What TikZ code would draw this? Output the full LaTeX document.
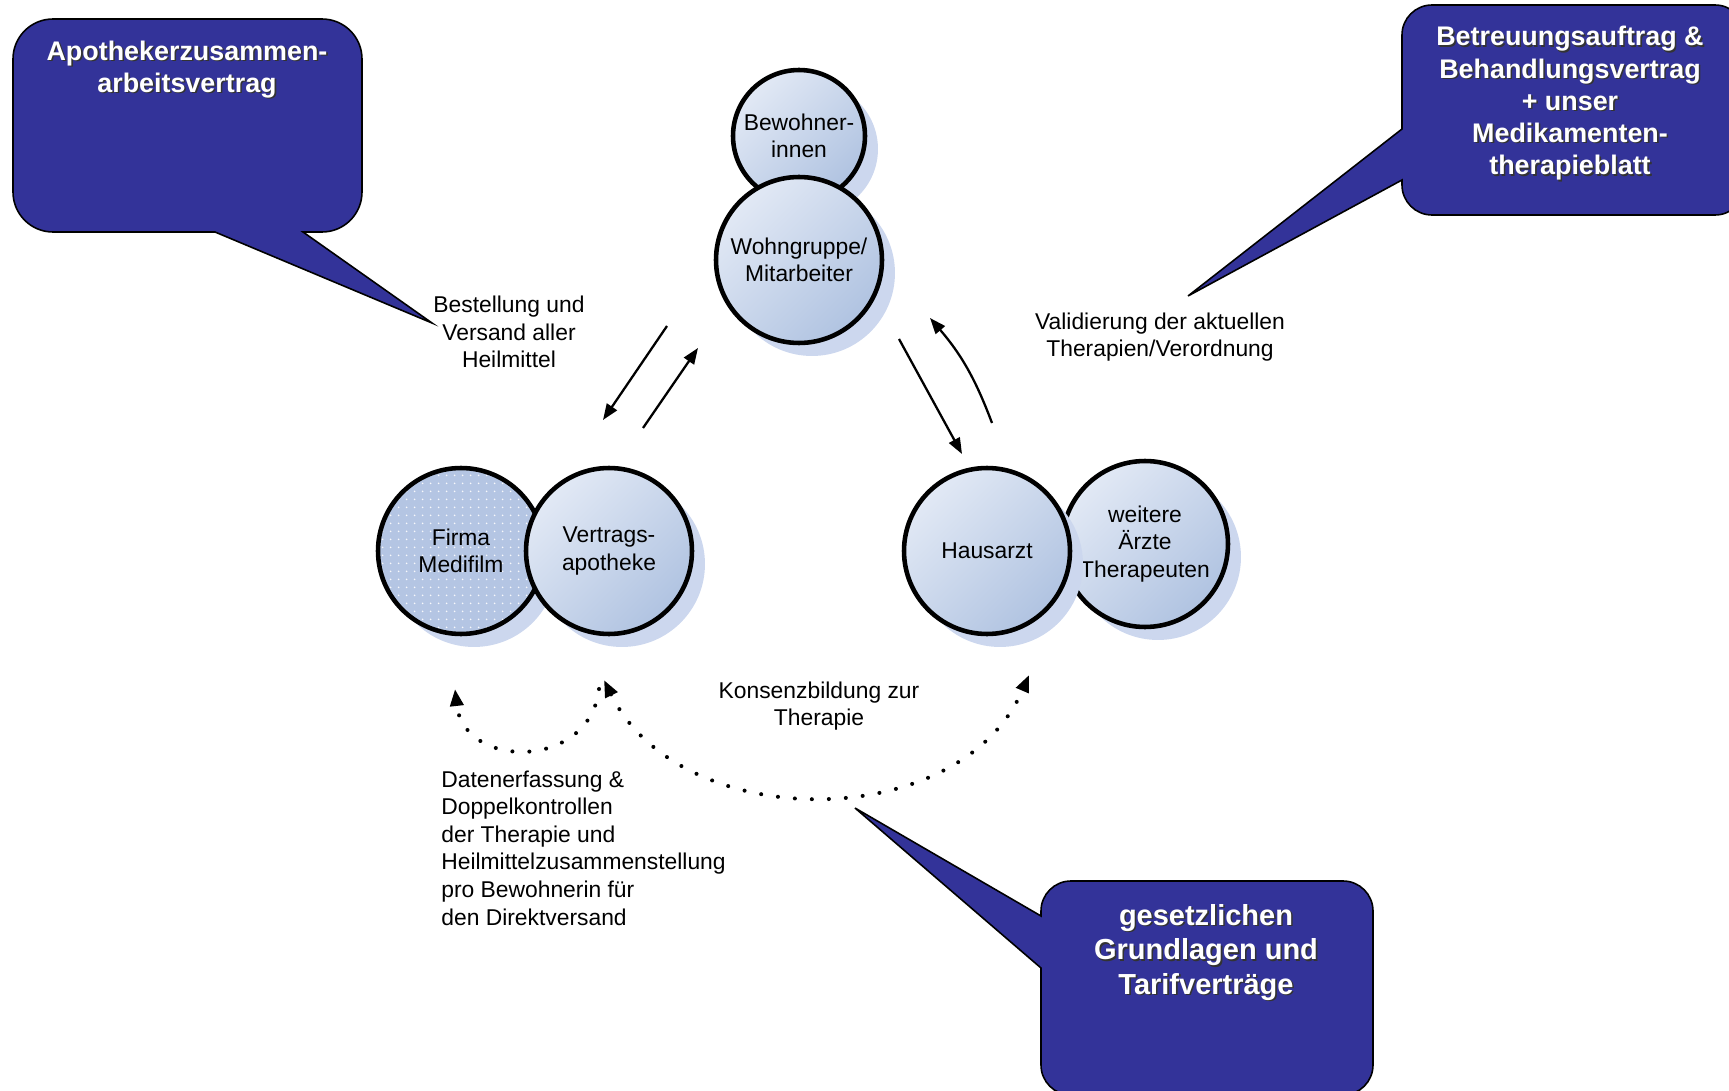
\documentclass[tikz,border=0pt]{standalone}
\usepackage{fontspec}
\setmainfont{Liberation Sans}
\usepackage{tikz}
\usetikzlibrary{arrows.meta,shadows,patterns.meta}
\definecolor{calloutblue}{RGB}{51,51,153}
\definecolor{ballhi}{RGB}{226,233,245}
\definecolor{balllo}{RGB}{176,195,225}
\definecolor{balldot}{RGB}{180,197,227}
\definecolor{ballshadow}{RGB}{204,215,238}

\newcommand\lab{\fontsize{13}{15.7}\selectfont}
\newcommand\calfont{\fontsize{15.3}{18.3}\selectfont\bfseries}
\newcommand\calfontL{\fontsize{16.5}{19.7}\selectfont\bfseries}
\newcommand\shd[1]{\leavevmode\rlap{\kern0.9pt\raisebox{-0.9pt}{\textcolor{black!80}{#1}}}#1}

\tikzdeclarepattern{name=sparsedots, type=uncolored,
  bottom left={(0pt,0pt)}, top right={(4.6pt,4.6pt)}, tile size={(4.6pt,4.6pt)},
  code={\pgfpathcircle{\pgfpoint{2.3pt}{2.3pt}}{0.6pt}\pgfusepath{fill}}}

\begin{document}
\begin{tikzpicture}[x=0.02cm, y=-0.02cm, every node/.style={font=\lab}]
\tikzset{ball/.style={circle,draw=black,line width=2.6pt,minimum size=3.32cm,inner sep=0pt,align=center,
  drop shadow={shadow xshift=0.26cm,shadow yshift=-0.26cm,fill=ballshadow,opacity=1}},
  shadedball/.style={ball,top color=ballhi,bottom color=balllo,shading angle=45},
  dottedball/.style={ball,preaction={fill=balldot},pattern=sparsedots,pattern color=white!90!balldot},
  callout/.style={draw=black,line width=0.9pt,fill=calloutblue},
  calltext/.style={text=white,align=center,font=\calfont},
  arr/.style={line width=1.3pt,-{Triangle[length=0.32cm,width=0.24cm]}},
  dotarc/.style={line width=2.3pt,line cap=round,dash pattern=on 0pt off 0.34cm}}

\clip (0,0) rectangle (1729,1091);

% speech bubbles
\draw[callout] (190,19) [rounded corners=0.8cm] -- (362,19) -- (362,232) [sharp corners]
  -- (303,232) -- (432,323) -- (215,232) [rounded corners=0.8cm] -- (13,232) -- (13,19) -- cycle;
\draw[callout] (1570,5) [rounded corners=0.6cm] -- (1402,5) [sharp corners] -- (1402,129)
  -- (1188,296) -- (1402,180) [rounded corners=0.6cm] -- (1402,215) -- (1745,215) -- (1745,5) -- cycle;
\draw[callout] (1200,881) [rounded corners=0.6cm] -- (1373,881) -- (1373,1095) -- (1041,1095) [sharp corners]
  -- (1041,968) -- (855,808) -- (1041,916) [rounded corners=0.6cm] -- (1041,881) -- cycle;

\node[calltext] (capo) at (187,70) {\shd{Apothekerzusammen-}\\\shd{arbeitsvertrag}};
\node[calltext] (cbetr) at (1570,104) {\shd{Betreuungsauftrag \&}\\\shd{Behandlungsvertrag}\\\shd{+ unser}\\\shd{Medikamenten-}\\\shd{therapieblatt}};
\node[calltext,font=\calfontL] (cges) at (1206,953) {\shd{gesetzlichen}\\\shd{Grundlagen und}\\\shd{Tarifverträge}};

% circles
\node[shadedball,minimum size=2.64cm] (bew) at (799,136) {Bewohner-\\innen};
\node[shadedball] (wohn) at (799,260) {Wohngruppe/\\Mitarbeiter};
\node[dottedball] (firma) at (461,551) {Firma\\Medifilm};
\node[shadedball] (apo) at (609,551) {Vertrags-\\apotheke};
\node[shadedball] (aerzte) at (1145,544) {weitere\\Ärzte\\Therapeuten};
\node[shadedball] (haus) at (987,551) {Hausarzt};

% labels
\node[align=center] (lbest) at (509,332) {Bestellung und\\Versand aller\\Heilmittel};
\node[align=center] (lvalid) at (1160,337) {Validierung der aktuellen\\Therapien/Verordnung};
\node[align=center] (lkons) at (819,706) {Konsenzbildung zur\\Therapie};
\node[anchor=west,align=left,inner sep=0pt] (ldaten) at (441,848) {Datenerfassung \&\\Doppelkontrollen\\der Therapie und\\Heilmittelzusammenstellung\\pro Bewohnerin für\\den Direktversand};

% arrows
\coordinate (w1) at (667,326); \coordinate (a1) at (603,420);
\coordinate (a2) at (643,428); \coordinate (w2) at (698,348);
\coordinate (w3) at (899,339); \coordinate (h3) at (962,454);
\coordinate (h4) at (992,423); \coordinate (w4) at (930,318);
\draw[arr] (w1) -- (a1);
\draw[arr] (a2) -- (w2);
\draw[arr] (w3) -- (h3);
\draw[arr] (h4) to[bend right=10] (w4);

\coordinate (dA) at (599,689); \coordinate (dF) at (455,689);
\coordinate (dV) at (604,680); \coordinate (dH) at (1029,675);
\draw[dotarc,-{Triangle[length=0.34cm,width=0.26cm]}] (dA) .. controls (590,770) and (464,770) .. (dF);
\draw[dotarc,{Triangle[length=0.34cm,width=0.26cm]}-{Triangle[length=0.34cm,width=0.26cm]}] (dV) .. controls (680,835) and (960,835) .. (dH);
\end{tikzpicture}
\end{document}
